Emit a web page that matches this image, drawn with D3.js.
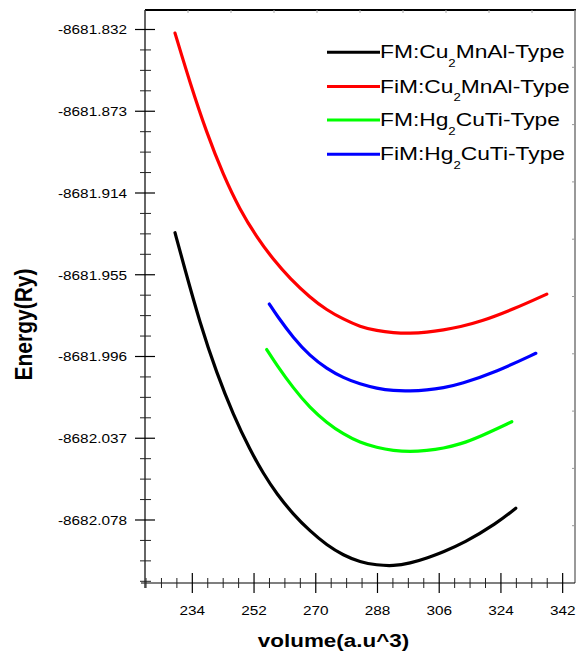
<!DOCTYPE html>
<html>
<head>
<meta charset="utf-8">
<script src="https://cdn.jsdelivr.net/npm/d3@7"></script>
<style>
  html, body { margin: 0; padding: 0; background: #fff; }
  svg { display: block; font-family: "Liberation Sans", Arial, sans-serif; }
</style>
</head>
<body>
<svg id="chart" width="576" height="657"></svg>
<script>
// E(V) curves for the four magnetic configurations
const fmCuVol   = [228.95, 231.37, 236.24, 241.12, 245.96, 250.83, 254.71, 258.62, 263.46, 268.33, 273.21, 278.05, 282.92, 287.79, 292.63, 297.51, 302.38, 307.22, 313.05, 322.80, 328.34];
const fmCuE     = [-8681.9339, -8681.9493, -8681.9794, -8682.0044, -8682.0253, -8682.0429, -8682.0547, -8682.0650, -8682.0752, -8682.0836, -8682.0906, -8682.0957, -8682.0991, -8682.1006, -8682.1011, -8682.0997, -8682.0972, -8682.0939, -8682.0897, -8682.0797, -8682.0721];

const fimCuVol  = [228.95, 233.33, 238.20, 243.04, 247.91, 252.78, 257.63, 262.50, 268.33, 273.21, 278.05, 282.92, 287.79, 292.63, 297.51, 302.38, 307.22, 312.09, 317.93, 327.64, 337.38];
const fimCuE    = [-8681.8338, -8681.8588, -8681.8839, -8681.9050, -8681.9225, -8681.9361, -8681.9474, -8681.9569, -8681.9664, -8681.9727, -8681.9773, -8681.9811, -8681.9831, -8681.9841, -8681.9844, -8681.9839, -8681.9827, -8681.9811, -8681.9786, -8681.9723, -8681.9647];

const fmHgVol   = [255.70, 258.62, 263.46, 268.33, 273.21, 278.05, 282.92, 287.79, 292.63, 297.51, 302.38, 307.22, 312.09, 317.93, 327.17];
const fmHgE     = [-8681.9925, -8682.0003, -8682.0119, -8682.0218, -8682.0292, -8682.0350, -8682.0392, -8682.0417, -8682.0432, -8682.0438, -8682.0432, -8682.0420, -8682.0400, -8682.0362, -8682.0287];

const fimHgVol  = [256.46, 258.62, 263.46, 268.33, 273.21, 278.05, 282.92, 287.79, 292.63, 297.51, 302.38, 307.22, 312.09, 322.80, 334.17];
const fimHgE    = [-8681.9697, -8681.9754, -8681.9867, -8681.9958, -8682.0021, -8682.0067, -8682.0099, -8682.0120, -8682.0132, -8682.0133, -8682.0128, -8682.0117, -8682.0099, -8682.0036, -8681.9944];

const seriesNames  = ["FM:Cu|2|MnAl-Type", "FiM:Cu|2|MnAl-Type", "FM:Hg|2|CuTi-Type", "FiM:Hg|2|CuTi-Type"];
const seriesColors = ["#000000", "#ff0000", "#00ff00", "#0000ff"];

const xTicks = [234, 252, 270, 288, 306, 324, 342];
const yTicks = [-8681.832, -8681.873, -8681.914, -8681.955, -8681.996, -8682.037, -8682.078];

const series = [
  { vol: fmCuVol,  e: fmCuE },
  { vol: fimCuVol, e: fimCuE },
  { vol: fmHgVol,  e: fmHgE },
  { vol: fimHgVol, e: fimHgE }
].map((s, i) => ({
  name: seriesNames[i],
  color: seriesColors[i],
  pts: s.vol.map((v, j) => [v, s.e[j]])
}));

const svg = d3.select("#chart");
const L = 145, R = 575, T = 10, B = 583;
const STRETCH = 1.18;   // text is set slightly wide

const x = d3.scaleLinear().domain([220.2, 345.6]).range([L, R]);
const y = d3.scaleLinear().domain([-8682.1096, -8681.82222]).range([B, T]);

// plain hyphen-minus for negative tick labels
const fmtY = d => d3.format(".3f")(d).replace("\u2212", "-");

// frame: top and right sides with small inward ticks
svg.append("line").attr("x1", L).attr("x2", R + 1).attr("y1", T).attr("y2", T)
  .attr("stroke", "#000").attr("stroke-width", 2);
svg.append("line").attr("x1", R).attr("x2", R).attr("y1", T).attr("y2", B)
  .attr("stroke", "#777").attr("stroke-width", 1.5);
const frameG = svg.append("g");
d3.range(1, 10).forEach(k => {
  const tx = L + (R - L) * k / 10;
  frameG.append("line").attr("x1", tx).attr("x2", tx).attr("y1", T).attr("y2", T + 3)
    .attr("stroke", "#aaa").attr("stroke-width", 1);
});
d3.range(1, 10).forEach(k => {
  const ty = T + (B - T) * k / 10;
  frameG.append("line").attr("x1", R - 3).attr("x2", R).attr("y1", ty).attr("y2", ty)
    .attr("stroke", "#999").attr("stroke-width", 1);
});

// bottom axis
const xMinor = d3.range(220.5, 345.6, 4.5).filter(v => !xTicks.includes(v));
const xAxisG = svg.append("g");
xAxisG.append("line").attr("x1", L - 4).attr("x2", R).attr("y1", B).attr("y2", B)
  .attr("stroke", "#000").attr("stroke-width", 1.2);
xAxisG.selectAll("line.minor").data(xMinor).join("line").attr("class", "minor")
  .attr("x1", d => x(d)).attr("x2", d => x(d)).attr("y1", B - 5).attr("y2", B + 5)
  .attr("stroke", "#222").attr("stroke-width", 1);
xAxisG.selectAll("line.major").data(xTicks).join("line").attr("class", "major")
  .attr("x1", d => x(d)).attr("x2", d => x(d)).attr("y1", B - 10).attr("y2", B + 10)
  .attr("stroke", "#000").attr("stroke-width", 1.2);
xAxisG.selectAll("text").data(xTicks).join("text")
  .attr("transform", d => `translate(${x(d)},614.5) scale(${STRETCH},1)`)
  .attr("text-anchor", "middle").attr("font-size", 13).attr("fill", "#000")
  .text(d => d3.format("d")(d));

// left axis
const yStep = 0.041 / 4;
const yMinor = [];
for (let k = -1; k <= 27; k++) {
  if (k % 4 === 0) continue;
  const v = -8681.832 - k * yStep;
  if (y(v) >= T - 0.5 && y(v) <= B + 0.5) yMinor.push(v);
}
const yAxisG = svg.append("g");
yAxisG.append("line").attr("x1", L).attr("x2", L).attr("y1", T).attr("y2", B + 5)
  .attr("stroke", "#333").attr("stroke-width", 1.5);
yAxisG.selectAll("line.minor").data(yMinor).join("line").attr("class", "minor")
  .attr("x1", L - 5).attr("x2", L + 6).attr("y1", d => y(d)).attr("y2", d => y(d))
  .attr("stroke", "#222").attr("stroke-width", 1);
yAxisG.selectAll("line.major").data(yTicks).join("line").attr("class", "major")
  .attr("x1", L - 10).attr("x2", L + 10).attr("y1", d => y(d)).attr("y2", d => y(d))
  .attr("stroke", "#000").attr("stroke-width", 1.2);
yAxisG.selectAll("text").data(yTicks).join("text")
  .attr("transform", d => `translate(127,${y(d) + 4.8}) scale(${STRETCH},1)`)
  .attr("text-anchor", "end").attr("font-size", 13).attr("fill", "#000")
  .text(fmtY);

// axis titles
svg.append("text")
  .attr("transform", `translate(333.5,647) scale(${STRETCH},1)`)
  .attr("text-anchor", "middle").attr("font-size", 19).attr("font-weight", "bold")
  .text("volume(a.u^3)");
svg.append("text")
  .attr("transform", `translate(32,324.5) scale(${STRETCH},1) rotate(-90)`)
  .attr("text-anchor", "middle").attr("font-size", 21).attr("font-weight", "bold")
  .text("Energy(Ry)");

// curves (smooth B-spline through the E(V) points)
const line = d3.line().x(d => x(d[0])).y(d => y(d[1])).curve(d3.curveBasis);
svg.append("g").selectAll("path").data(series).join("path")
  .attr("d", d => line(d.pts))
  .attr("fill", "none").attr("stroke", d => d.color)
  .attr("stroke-width", 3.2).attr("stroke-linecap", "round").attr("stroke-linejoin", "round");

// legend
const legendRows = [52.3, 86.5, 120, 154.3];
const lg = svg.append("g");
series.forEach((s, i) => {
  const ly = legendRows[i];
  lg.append("line").attr("x1", 327).attr("x2", 380).attr("y1", ly).attr("y2", ly)
    .attr("stroke", s.color).attr("stroke-width", 3);
  const parts = s.name.split("|");
  const t = lg.append("text")
    .attr("transform", `translate(380,${ly + 6}) scale(1.2,1)`)
    .attr("font-size", 19).attr("fill", "#000");
  t.append("tspan").text(parts[0]);
  t.append("tspan").attr("font-size", 11).attr("dy", 8.5).text(parts[1]);
  t.append("tspan").attr("dy", -8.5).text(parts[2]);
});
</script>
</body>
</html>
